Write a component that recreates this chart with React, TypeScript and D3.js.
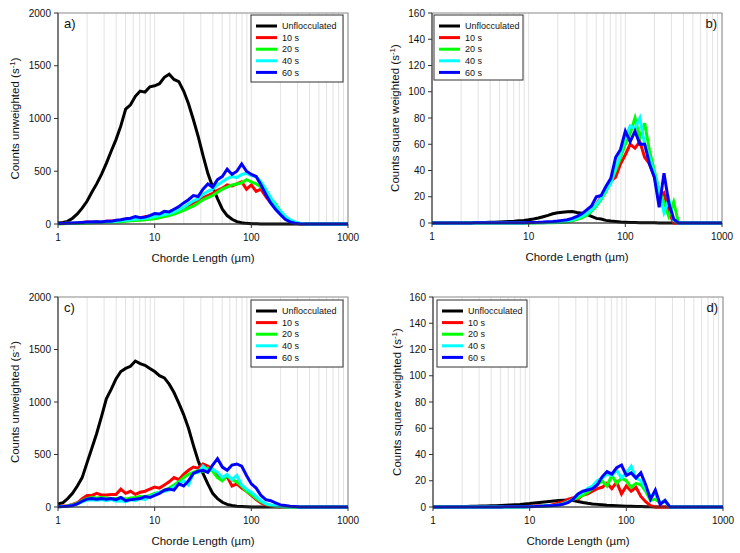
import React from "react";
import * as d3 from "d3";

// Chord length bin positions (µm), log spaced
const BINS = [1, 1.122, 1.259, 1.413, 1.585, 1.778, 1.995, 2.239, 2.512, 2.818, 3.162, 3.548, 3.981, 4.467, 5.012, 5.623, 6.31, 7.079, 7.943, 8.913,
  10, 11.22, 12.59, 14.13, 15.85, 17.78, 19.95, 22.39, 25.12, 28.18, 31.62, 35.48, 39.81, 44.67, 50.12, 56.23, 63.1, 70.79, 79.43, 89.13,
  100, 112.2, 125.9, 141.3, 158.5, 177.8, 199.5, 223.9, 251.2, 281.8, 316.2, 354.8, 398.1, 446.7, 501.2, 562.3, 631, 707.9, 794.3, 891.3, 1000];

const SERIES_NAMES = ["Unflocculated", "10 s", "20 s", "40 s", "60 s"];
const SERIES_COLORS = ["#000000", "#ff0000", "#00ff00", "#00ffff", "#0000ff"];

const X_TICKS = [1, 10, 100, 1000];
const Y_TICKS_UNW = [0, 500, 1000, 1500, 2000];
const Y_TICKS_SQ = [0, 20, 40, 60, 80, 100, 120, 140, 160];

// Panel a) counts unweighted
const A_UNF = [10, 15, 25, 55, 95, 150, 215, 300, 380, 470, 575, 690, 800, 930, 1090, 1130, 1210, 1260, 1250, 1300,
  1310, 1330, 1390, 1420, 1370, 1350, 1260, 1140, 990, 830, 650, 480, 350, 240, 140, 80, 45, 22, 12, 6,
  3, 2, 1, 0, 0, 0, 0, 0, 0, 0, 0, 0, 0, 0, 0, 0, 0, 0, 0, 0, 0];
const A_10 = [3, 4, 6, 8, 10, 14, 18, 20, 22, 20, 25, 28, 30, 35, 45, 50, 55, 60, 70, 75,
  85, 90, 100, 110, 120, 140, 150, 175, 200, 220, 250, 270, 290, 320, 340, 370, 360, 380, 400, 330,
  370, 310, 330, 260, 200, 150, 100, 60, 25, 8, 2, 0, 0, 0, 0, 0, 0, 0, 0, 0, 0];
const A_20 = [2, 3, 4, 5, 6, 8, 10, 12, 14, 15, 15, 18, 20, 22, 25, 30, 32, 35, 40, 45,
  50, 60, 70, 80, 95, 110, 130, 150, 170, 200, 230, 250, 270, 300, 330, 350, 370, 380, 390, 420,
  400, 380, 350, 300, 240, 190, 120, 70, 30, 12, 4, 0, 0, 0, 0, 0, 0, 0, 0, 0, 0];
const A_40 = [3, 4, 6, 8, 10, 12, 14, 16, 18, 18, 20, 22, 25, 30, 35, 40, 45, 50, 55, 60,
  70, 80, 90, 100, 115, 135, 160, 190, 220, 240, 280, 310, 330, 370, 400, 430, 450, 440, 470, 480,
  460, 450, 400, 330, 250, 180, 120, 75, 40, 20, 8, 2, 0, 0, 0, 0, 0, 0, 0, 0, 0];
const A_60 = [5, 5, 8, 10, 12, 15, 18, 20, 22, 20, 25, 25, 35, 40, 50, 55, 70, 60, 65, 80,
  100, 95, 120, 115, 140, 165, 200, 230, 270, 260, 330, 380, 350, 420, 450, 520, 470, 500, 570, 500,
  470, 450, 370, 280, 200, 140, 90, 45, 20, 8, 2, 0, 0, 0, 0, 0, 0, 0, 0, 0, 0];

// Panel b) counts square weighted
const B_UNF = [0, 0, 0, 0.05, 0.1, 0.1, 0.15, 0.2, 0.25, 0.3, 0.3, 0.4, 0.5, 0.6, 0.8, 1.0, 1.2, 1.4, 1.7, 2.0,
  2.4, 3, 3.8, 4.8, 5.8, 7, 7.8, 8.2, 8.5, 8.8, 8, 7.5, 6.5, 5, 3.5, 3, 2, 1.5, 1.2, 0.8,
  0.6, 0.4, 0.3, 0.25, 0.2, 0.15, 0.1, 0.05, 0, 0, 0, 0, 0, 0, 0, 0, 0, 0, 0, 0, 0];
const B_10 = [0, 0, 0, 0, 0, 0, 0, 0, 0, 0, 0, 0, 0, 0, 0, 0, 0, 0, 0, 0,
  0.05, 0.1, 0.15, 0.2, 0.3, 0.4, 0.5, 1, 1.5, 2, 3, 5, 7, 10, 14, 20, 25, 32, 35, 45,
  52, 60, 57, 62, 50, 45, 35, 20, 23, 8, 0, 0, 0, 0, 0, 0, 0, 0, 0, 0, 0];
const B_20 = [0, 0, 0, 0, 0, 0, 0, 0, 0, 0, 0, 0, 0, 0, 0, 0, 0, 0, 0, 0,
  0.05, 0.08, 0.1, 0.15, 0.2, 0.25, 0.3, 0.6, 1, 1.8, 2.8, 4, 6, 9, 13, 18, 24, 32, 40, 50,
  60, 68, 80, 65, 76, 55, 40, 25, 15, 5, 16, 0, 0, 0, 0, 0, 0, 0, 0, 0, 0];
const B_40 = [0, 0, 0, 0, 0, 0, 0, 0, 0, 0, 0, 0, 0, 0, 0, 0, 0, 0, 0, 0,
  0.05, 0.1, 0.15, 0.2, 0.3, 0.4, 0.5, 1, 1.5, 2.5, 3.5, 5, 7, 10, 14, 19, 25, 30, 42, 52,
  65, 74, 72, 80, 60, 50, 38, 24, 8, 18, 2, 0, 0, 0, 0, 0, 0, 0, 0, 0, 0];
const B_60 = [0, 0, 0, 0, 0.05, 0.05, 0.05, 0.05, 0.08, 0.1, 0.1, 0.1, 0.12, 0.12, 0.15, 0.15, 0.18, 0.2, 0.22, 0.25,
  0.3, 0.4, 0.5, 0.7, 1, 1.2, 1.5, 2, 2.5, 3.5, 5, 7, 10, 13, 20, 21, 28, 34, 50, 56,
  70, 62, 70, 60, 60, 45, 35, 12, 38, 15, 3, 0, 0, 0, 0, 0, 0, 0, 0, 0, 0];

// Panel c) counts unweighted
const C_UNF = [30, 40, 80, 130, 200, 280, 420, 560, 700, 860, 1030, 1120, 1220, 1290, 1320, 1340, 1390, 1365, 1350, 1320,
  1290, 1250, 1230, 1170, 1090, 990, 880, 750, 590, 440, 320, 220, 130, 80, 45, 25, 15, 8, 5, 3,
  1, 0, 0, 0, 0, 0, 0, 0, 0, 0, 0, 0, 0, 0, 0, 0, 0, 0, 0, 0, 0];
const C_10 = [5, 8, 12, 25, 40, 80, 110, 110, 130, 115, 115, 120, 120, 170, 130, 150, 120, 140, 150, 170,
  190, 180, 210, 240, 280, 260, 310, 350, 380, 370, 410, 390, 360, 300, 260, 290, 200, 220, 180, 150,
  110, 70, 40, 20, 10, 5, 0, 0, 0, 0, 0, 0, 0, 0, 0, 0, 0, 0, 0, 0, 0];
const C_20 = [3, 5, 10, 20, 35, 60, 80, 90, 85, 90, 85, 80, 80, 90, 75, 85, 90, 100, 95, 110,
  130, 140, 160, 180, 210, 240, 280, 310, 330, 350, 340, 370, 340, 280, 250, 300, 260, 240, 200, 150,
  120, 80, 50, 30, 15, 8, 2, 0, 0, 0, 0, 0, 0, 0, 0, 0, 0, 0, 0, 0, 0];
const C_40 = [3, 5, 8, 15, 30, 50, 65, 70, 65, 70, 60, 70, 55, 60, 50, 70, 60, 80, 70, 100,
  120, 140, 150, 160, 190, 220, 250, 210, 320, 330, 390, 340, 360, 330, 280, 310, 260, 300, 210, 170,
  140, 100, 60, 30, 20, 10, 5, 2, 0, 0, 0, 0, 0, 0, 0, 0, 0, 0, 0, 0, 0];
const C_60 = [2, 4, 8, 15, 30, 55, 75, 80, 75, 80, 75, 80, 70, 90, 60, 70, 75, 80, 100, 90,
  110, 130, 160, 170, 160, 220, 200, 250, 320, 340, 350, 330, 400, 460, 380, 350, 400, 410, 390, 300,
  220, 180, 110, 70, 60, 40, 20, 15, 8, 4, 0, 0, 0, 0, 0, 0, 0, 0, 0, 0, 0];

// Panel d) counts square weighted
const D_UNF = [0, 0, 0.05, 0.1, 0.15, 0.2, 0.3, 0.4, 0.5, 0.6, 0.7, 0.8, 0.9, 1.0, 1.2, 1.4, 1.6, 1.8, 2.0, 2.3,
  2.6, 3.0, 3.4, 3.8, 4.2, 4.6, 4.9, 5.1, 5.3, 5.0, 4.2, 3.4, 2.8, 2.3, 2.0, 1.7, 1.4, 1.2, 1.0, 0.8,
  0.6, 0.5, 0.4, 0.3, 0.2, 0.1, 0, 0, 0, 0, 0, 0, 0, 0, 0, 0, 0, 0, 0, 0, 0];
const D_10 = [0, 0, 0, 0, 0, 0, 0, 0, 0, 0, 0, 0, 0, 0, 0, 0.1, 0.15, 0.2, 0.3, 0.4,
  0.5, 0.6, 0.7, 0.8, 1, 2, 3, 4, 6, 7, 6, 9, 10, 12, 14, 15, 18, 14, 19, 10,
  16, 12, 15, 8, 4, 1, 0, 0, 0, 0, 0, 0, 0, 0, 0, 0, 0, 0, 0, 0, 0];
const D_20 = [0, 0, 0, 0, 0, 0, 0, 0, 0, 0, 0, 0, 0, 0, 0, 0, 0, 0, 0, 0,
  0.3, 0.4, 0.5, 0.7, 1, 1.2, 1.5, 2.5, 4, 6, 7, 9, 11, 14, 17, 20, 16, 24, 18, 22,
  20, 15, 18, 17, 12, 5, 6, 3, 5, 0, 0, 0, 0, 0, 0, 0, 0, 0, 0, 0, 0];
const D_40 = [0, 0, 0, 0, 0, 0, 0, 0, 0, 0, 0, 0, 0, 0, 0, 0, 0, 0, 0, 0,
  0.3, 0.4, 0.5, 0.7, 1, 1.2, 1.5, 2.5, 4, 6, 9, 11, 14, 16, 20, 22, 25, 24, 28, 22,
  26, 31, 22, 20, 14, 8, 10, 3, 4, 0, 0, 0, 0, 0, 0, 0, 0, 0, 0, 0, 0];
const D_60 = [0, 0, 0, 0, 0, 0, 0, 0, 0, 0, 0, 0, 0, 0, 0, 0.1, 0.1, 0.15, 0.2, 0.2,
  0.2, 0.3, 0.5, 0.7, 1, 1.2, 1.6, 2.2, 3.5, 6, 10, 12, 13, 14, 17, 23, 27, 25, 30, 32,
  24, 26, 22, 26, 17, 6, 13, 2, 5, 0, 0, 0, 0, 0, 0, 0, 0, 0, 0, 0, 0];

const FONT = "'Liberation Sans', Arial, Helvetica, sans-serif";

type Box = { l: number; r: number; t: number; b: number };

const PANELS = [
  { id: "a", box: { l: 58, r: 348, t: 13, b: 224 }, yMax: 2000, yTicks: Y_TICKS_UNW, yTitle: "Counts unweighted", yTitleX: 15,
    label: "a)", labelRight: false, legend: { x: 251, y: 15, w: 92, h: 67 }, data: [A_UNF, A_10, A_20, A_40, A_60] },
  { id: "b", box: { l: 432, r: 722, t: 13, b: 223 }, yMax: 160, yTicks: Y_TICKS_SQ, yTitle: "Counts square weighted", yTitleX: 395,
    label: "b)", labelRight: true, legend: { x: 434, y: 15, w: 89, h: 65 }, data: [B_UNF, B_10, B_20, B_40, B_60] },
  { id: "c", box: { l: 58, r: 348, t: 297, b: 507 }, yMax: 2000, yTicks: Y_TICKS_UNW, yTitle: "Counts unweighted", yTitleX: 15,
    label: "c)", labelRight: false, legend: { x: 251, y: 300, w: 92, h: 67 }, data: [C_UNF, C_10, C_20, C_40, C_60] },
  { id: "d", box: { l: 433, r: 723, t: 297, b: 507 }, yMax: 160, yTicks: Y_TICKS_SQ, yTitle: "Counts square weighted", yTitleX: 397,
    label: "d)", labelRight: true, legend: { x: 437, y: 300, w: 90, h: 67 }, data: [D_UNF, D_10, D_20, D_40, D_60] },
];

function Panel({ p }: { p: (typeof PANELS)[number] }) {
  const { box } = p;
  const x = d3.scaleLog().domain([1, 1000]).range([box.l, box.r]);
  const y = d3.scaleLinear().domain([0, p.yMax]).range([box.b, box.t]);
  const grid: number[] = [];
  [1, 10, 100].forEach((dec) => {
    for (let k = 2; k <= 10; k++) grid.push(dec * k);
  });
  const line = d3
    .line<number>()
    .x((_, i) => x(BINS[i]))
    .y((v) => y(v));
  const cy = (box.t + box.b) / 2;
  const cx = (box.l + box.r) / 2;
  return (
    <g>
      {grid.map((g) => (
        <line key={g} x1={x(g)} x2={x(g)} y1={box.t} y2={box.b} stroke="#e3e3e3" strokeWidth={1} />
      ))}
      <rect x={box.l} y={box.t} width={box.r - box.l} height={box.b - box.t} fill="none" stroke="#8a8a8a" strokeWidth={1} />
      {p.data.map((s, i) => (
        <path key={i} d={line(s) || ""} fill="none" stroke={SERIES_COLORS[i]} strokeWidth={3} strokeLinejoin="miter" />
      ))}
      <line x1={box.l} x2={box.l} y1={box.t} y2={box.b} stroke="#333" strokeWidth={1} />
      <line x1={box.l} x2={box.r} y1={box.b} y2={box.b} stroke="#333" strokeWidth={1} />
      {p.yTicks.map((t) => (
        <g key={t}>
          <line x1={box.l - 4} x2={box.l} y1={y(t)} y2={y(t)} stroke="#333" />
          <text x={box.l - 7} y={y(t)} dy="0.35em" textAnchor="end" fontSize={10} fontFamily={FONT} fill="#111">
            {t}
          </text>
        </g>
      ))}
      {X_TICKS.map((t) => (
        <g key={t}>
          <line x1={x(t)} x2={x(t)} y1={box.b} y2={box.b + 4} stroke="#333" />
          <text x={x(t)} y={box.b + 17} textAnchor="middle" fontSize={10} fontFamily={FONT} fill="#111">
            {t}
          </text>
        </g>
      ))}
      <text x={cx} y={box.b + 38} textAnchor="middle" fontSize={11.5} fontFamily={FONT} fill="#111">
        Chorde Length (µm)
      </text>
      <text transform={`translate(${p.yTitleX},${cy}) rotate(-90)`} textAnchor="middle" fontSize={11.5} fontFamily={FONT} fill="#111" dy="0.35em">
        {p.yTitle} (s<tspan dy={-4} fontSize={8}>-1</tspan><tspan dy={4}>)</tspan>
      </text>
      <text x={p.labelRight ? box.r - 5 : box.l + 6} y={box.t + 15} textAnchor={p.labelRight ? "end" : "start"} fontSize={13} fontFamily={FONT} fill="#111">
        {p.label}
      </text>
      <g>
        <rect x={p.legend.x} y={p.legend.y} width={p.legend.w} height={p.legend.h} fill="#fff" stroke="#333" strokeWidth={1} />
        {SERIES_NAMES.map((n, i) => {
          const ly = p.legend.y + 11 + i * 11.6;
          return (
            <g key={n}>
              <line x1={p.legend.x + 5} x2={p.legend.x + 26} y1={ly} y2={ly} stroke={SERIES_COLORS[i]} strokeWidth={3} />
              <text x={p.legend.x + 31} y={ly} dy="0.35em" fontSize={9} fontFamily={FONT} fill="#111">
                {n}
              </text>
            </g>
          );
        })}
      </g>
    </g>
  );
}

export default function App() {
  return (
    <svg width={740} height={553} style={{ position: "absolute", left: 0, top: 0, background: "#fff" }}>
      <rect x={0} y={0} width={740} height={553} fill="#fff" />
      {PANELS.map((p) => (
        <Panel key={p.id} p={p} />
      ))}
    </svg>
  );
}
